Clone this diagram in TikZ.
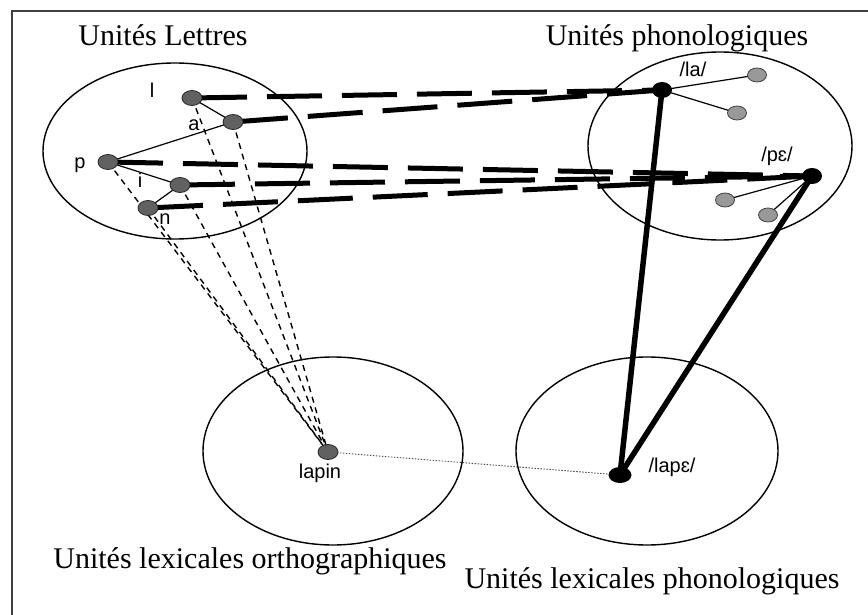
\documentclass[tikz,border=0pt]{standalone}
\usepackage{fontspec}
\setmainfont{Liberation Serif}
\setsansfont{Liberation Sans}
\usetikzlibrary{shapes.geometric,backgrounds}
\begin{document}
\begin{tikzpicture}[x=1pt,y=-1pt,
  grp/.style={ellipse,draw,line width=1.4pt,inner sep=0pt},
  gdot/.style={ellipse,draw=black!85,fill=black!62,line width=0.8pt,minimum width=20pt,minimum height=15pt,inner sep=0pt},
  ldot/.style={ellipse,draw=black!75,fill=black!40,line width=0.8pt,minimum width=19pt,minimum height=14pt,inner sep=0pt},
  bdot/.style={ellipse,fill=black,minimum width=20pt,minimum height=16pt,inner sep=0pt},
  title/.style={font=\fontsize{30}{34}\selectfont,anchor=base,inner sep=0pt},
  lab/.style={font=\sffamily\fontsize{20}{22}\selectfont,anchor=base,inner sep=0pt},
  thin/.style={line width=1.2pt},
  bigdash/.style={line width=5pt,dash pattern=on 55pt off 20pt},
  smalldash/.style={line width=1.4pt,dash pattern=on 6pt off 5pt},
  fine/.style={line width=0.9pt,black!70,dash pattern=on 1.5pt off 1.5pt},
  heavy/.style={line width=5.5pt}]
\useasboundingbox (0,0) rectangle (868,615);
\draw[line width=2pt,black!75] (12,615) -- (12,11) -- (868,11);

% group ellipses
\node[grp,minimum width=264pt,minimum height=176pt] (EL) at (175,151) {};
\node[grp,minimum width=264pt,minimum height=188pt] (EP) at (720,146) {};
\node[grp,minimum width=260pt,minimum height=188pt] (EO) at (333,451) {};
\node[grp,minimum width=262pt,minimum height=188pt] (EX) at (647,451) {};

% titles
\node[title] (t1) at (163,46) {Unités Lettres};
\node[title] (t2) at (677,46) {Unités phonologiques};
\node[title] (t3) at (250,568) {Unités lexicales orthographiques};
\node[title] (t4) at (652,588) {Unités lexicales phonologiques};

% letter units
\node[gdot] (l) at (192,98) {};
\node[gdot] (a) at (233,122) {};
\node[gdot] (p) at (108,162) {};
\node[gdot] (i) at (180,185) {};
\node[gdot] (n) at (148,208) {};
\node[lab] (tl) at (152,98) {l};
\node[lab] (ta) at (194,131) {a};
\node[lab] (tp) at (80,168) {p};
\node[lab] (ti) at (140,187) {i};
\node[lab] (tn) at (165,225) {n};

% phonological units
\node[bdot] (la) at (662,90) {};
\node[bdot] (pe) at (812,176) {};
\node[ldot] (g1) at (757,75) {};
\node[ldot] (g2) at (737,113) {};
\node[ldot] (g3) at (725,200) {};
\node[ldot] (g4) at (768,215) {};
\node[lab] (tla) at (693,77) {/la/};
\node[lab] (tpe) at (777,162) {/pɛ/};

% lexical units
\node[gdot] (lapin) at (328,452) {};
\node[lab] (tlapin) at (320,478) {lapin};
\node[bdot,minimum width=23pt] (lape) at (620,475) {};
\node[lab] (tlape) at (672,472) {/lapɛ/};

\begin{scope}[on background layer]
  \draw[thin] (l.center) -- (a.center);
  \draw[thin] (a.center) -- (p.center);
  \draw[thin] (p.center) -- (i.center);
  \draw[thin] (i.center) -- (n.center);
  \draw[thin] (la.center) -- (g1.center);
  \draw[thin] (la.center) -- (g2.center);
  \draw[thin] (pe.center) -- (g3.center);
  \draw[thin] (pe.center) -- (g4.center);
  \foreach \s in {l,a,p,i,n} \draw[smalldash] (\s.center) -- (lapin.center);
  \draw[bigdash] (l.center) -- (la.center);
  \draw[bigdash] (a.center) -- (la.center);
  \draw[bigdash] (p.center) -- (pe.center);
  \draw[bigdash] (i.center) -- (pe.center);
  \draw[bigdash] (n.center) -- (pe.center);
  \draw[heavy] (la.center) -- (lape.center);
  \draw[heavy] (pe.center) -- (lape.center);
  \draw[fine] (lapin.center) -- (lape.center);
\end{scope}
\end{tikzpicture}
\end{document}
